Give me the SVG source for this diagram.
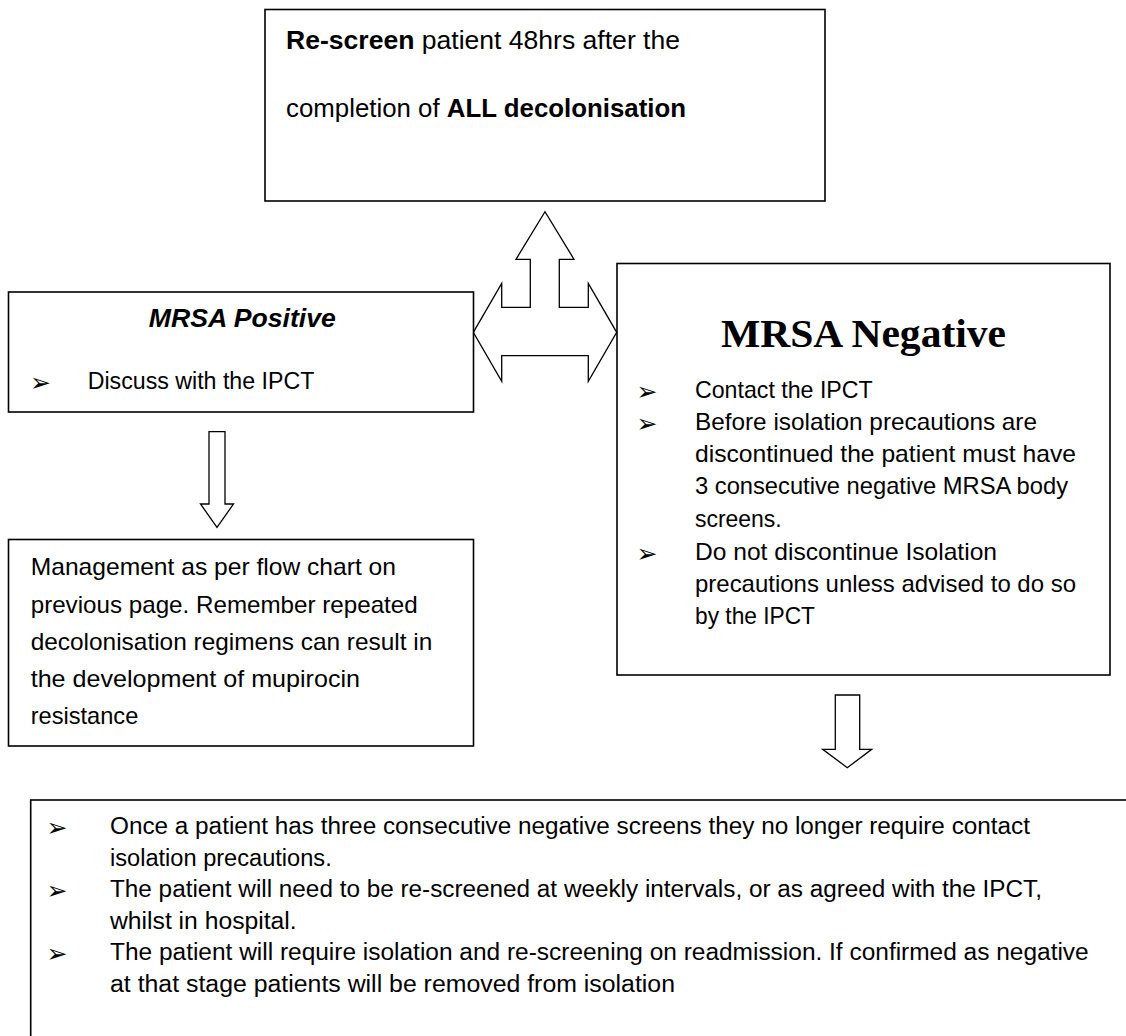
<svg xmlns="http://www.w3.org/2000/svg" width="1126" height="1036" viewBox="0 0 1126 1036">
<style>
.box{fill:#fff;stroke:#000;stroke-width:1.6}
.arr{fill:#fff;stroke:#000;stroke-width:1.3;stroke-linejoin:miter}
.t{font-family:"Liberation Sans",Arial,sans-serif;fill:#000}
.b{font-family:"DejaVu Sans",sans-serif;font-size:25px;fill:#000}
.bold{font-weight:bold}
</style>
<rect width="1126" height="1036" fill="#fff"/>
<g id="connectors">
<polygon class="arr" points="473.3,332.3 501.7,283.3 501.7,307.3 530.3,307.3 530.3,259.3 516,259.3 545,211.7 574,259.3 559.3,259.3 559.3,307.3 588.3,307.3 588.3,283.3 616.7,332.3 588.3,381.3 588.3,355.7 501.7,355.7 501.7,381.3"/>
<polygon class="arr" points="209,431.7 225,431.7 225,504 233.5,504 217,527.3 200.5,504 209,504"/>
<polygon class="arr" points="835.3,695 859.7,695 859.7,749.3 871.7,749.3 847.3,767.7 822.7,749.3 835.3,749.3"/>
</g>
<g id="rescreen">
<rect class="box" x="265" y="9.5" width="560" height="191.5"/>
<text class="t" x="286" y="49" font-size="26.5" textLength="394" lengthAdjust="spacingAndGlyphs"><tspan class="bold">Re-screen</tspan> patient 48hrs after the</text>
<text class="t" x="286" y="117" font-size="26.5" textLength="400" lengthAdjust="spacingAndGlyphs">completion of <tspan class="bold">ALL decolonisation</tspan></text>
</g>
<g id="positive">
<rect class="box" x="8.5" y="292" width="465" height="120"/>
<text class="t" x="242.3" y="327" font-size="25" font-weight="bold" font-style="italic" text-anchor="middle" textLength="187" lengthAdjust="spacingAndGlyphs">MRSA Positive</text>
<text class="b" x="30" y="391">➢</text>
<text class="t" x="87.7" y="389" font-size="23.5" textLength="226.7" lengthAdjust="spacingAndGlyphs">Discuss with the IPCT</text>
</g>
<g id="management">
<rect class="box" x="8.5" y="539.5" width="465" height="206.5"/>
<g class="t" font-size="24">
<text x="30.7" y="575" textLength="365.3" lengthAdjust="spacingAndGlyphs">Management as per flow chart on</text>
<text x="30.7" y="612.5" textLength="387" lengthAdjust="spacingAndGlyphs">previous page. Remember repeated</text>
<text x="30.7" y="650" textLength="401.6" lengthAdjust="spacingAndGlyphs">decolonisation regimens can result in</text>
<text x="30.7" y="687" textLength="329.3" lengthAdjust="spacingAndGlyphs">the development of mupirocin</text>
<text x="30.7" y="724" textLength="107.6" lengthAdjust="spacingAndGlyphs">resistance</text>
</g>
</g>
<g id="negative">
<rect class="box" x="617" y="263.5" width="493" height="411.5"/>
<text x="863.5" y="347" font-family="'Liberation Serif','Times New Roman',serif" font-size="41" font-weight="bold" text-anchor="middle" textLength="285" lengthAdjust="spacingAndGlyphs">MRSA Negative</text>
<text class="b" x="636.5" y="400">➢</text>
<text class="b" x="636.5" y="432">➢</text>
<text class="b" x="636.5" y="562">➢</text>
<g class="t" font-size="24">
<text x="695" y="398" textLength="177.7" lengthAdjust="spacingAndGlyphs">Contact the IPCT</text>
<text x="695" y="430" textLength="342" lengthAdjust="spacingAndGlyphs">Before isolation precautions are</text>
<text x="695" y="462" textLength="381" lengthAdjust="spacingAndGlyphs">discontinued the patient must have</text>
<text x="695" y="494" textLength="373" lengthAdjust="spacingAndGlyphs">3 consecutive negative MRSA body</text>
<text x="695" y="527" textLength="86.7" lengthAdjust="spacingAndGlyphs">screens.</text>
<text x="695" y="560" textLength="302" lengthAdjust="spacingAndGlyphs">Do not discontinue Isolation</text>
<text x="695" y="592" textLength="381" lengthAdjust="spacingAndGlyphs">precautions unless advised to do so</text>
<text x="695" y="624" textLength="120" lengthAdjust="spacingAndGlyphs">by the IPCT</text>
</g>
</g>
<g id="outcome">
<rect class="box" x="30.7" y="800" width="1200" height="300"/>
<text class="b" x="46.5" y="836">➢</text>
<text class="b" x="46.5" y="899">➢</text>
<text class="b" x="46.5" y="962">➢</text>
<g class="t" font-size="23">
<text x="110" y="834" textLength="920" lengthAdjust="spacingAndGlyphs">Once a patient has three consecutive negative screens they no longer require contact</text>
<text x="110" y="865.5" textLength="221.7" lengthAdjust="spacingAndGlyphs">isolation precautions.</text>
<text x="110" y="897" textLength="932" lengthAdjust="spacingAndGlyphs">The patient will need to be re-screened at weekly intervals, or as agreed with the IPCT,</text>
<text x="110" y="928.5" textLength="186.7" lengthAdjust="spacingAndGlyphs">whilst in hospital.</text>
<text x="110" y="960" textLength="978.7" lengthAdjust="spacingAndGlyphs">The patient will require isolation and re-screening on readmission. If confirmed as negative</text>
<text x="110" y="991.5" textLength="565" lengthAdjust="spacingAndGlyphs">at that stage patients will be removed from isolation</text>
</g>
</g>
</svg>
